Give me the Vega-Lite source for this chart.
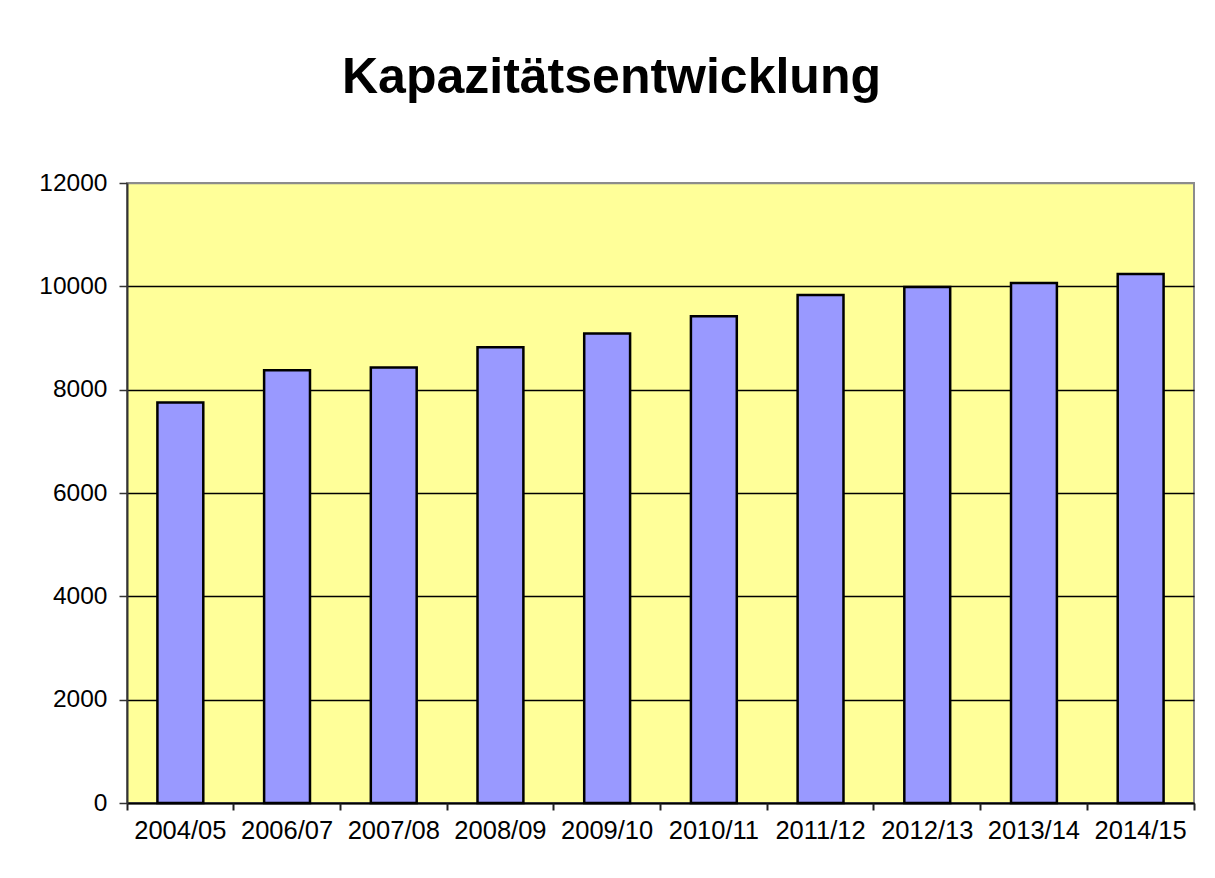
{
  "$schema": "https://vega.github.io/schema/vega-lite/v6.json",
  "autosize": {"type": "none"},
  "width": 1067,
  "height": 620,
  "padding": {"left": 127, "top": 183, "right": 21, "bottom": 75},
  "background": "white",
  "config": {
    "view": {"stroke": "#8c8c8c", "strokeWidth": 2, "fill": "#FFFF99"}
  },
  "title": {
    "text": "Kapazitätsentwicklung",
    "font": "Liberation Sans",
    "fontSize": 50,
    "fontWeight": "bold",
    "color": "black",
    "anchor": "middle",
    "dx": -49,
    "offset": 67
  },
  "data": {
    "values": [
      {"jahr": "2004/05", "kapazitaet": 7750},
      {"jahr": "2006/07", "kapazitaet": 8375},
      {"jahr": "2007/08", "kapazitaet": 8430},
      {"jahr": "2008/09", "kapazitaet": 8820},
      {"jahr": "2009/10", "kapazitaet": 9085},
      {"jahr": "2010/11", "kapazitaet": 9420},
      {"jahr": "2011/12", "kapazitaet": 9830},
      {"jahr": "2012/13", "kapazitaet": 9985},
      {"jahr": "2013/14", "kapazitaet": 10065},
      {"jahr": "2014/15", "kapazitaet": 10240}
    ]
  },
  "layer": [
    {
      "mark": {"type": "bar", "width": {"band": 0.43}, "fill": "#9999FF", "stroke": "black", "strokeWidth": 2.5},
      "encoding": {
        "x": {
          "field": "jahr", "type": "nominal", "sort": null,
          "scale": {"paddingInner": 0, "paddingOuter": 0},
          "axis": {
            "orient": "bottom", "title": null, "ticks": false, "tickSize": 0,
            "labelAngle": 0, "labelFont": "Liberation Sans", "labelFontSize": 25.5,
            "labelColor": "black", "labelPadding": 15,
            "domainColor": "black", "domainWidth": 2, "grid": false
          }
        },
        "y": {
          "field": "kapazitaet", "type": "quantitative",
          "scale": {"domain": [0, 12000], "nice": false},
          "axis": {
            "title": null,
            "format": "d",
            "values": [0, 2000, 4000, 6000, 8000, 10000, 12000],
            "grid": true,
            "gridColor": {"condition": {"test": "datum.value == 12000", "value": "#8c8c8c"}, "value": "black"},
            "gridWidth": 1.3,
            "domainColor": "#333333", "domainWidth": 2,
            "tickColor": "#333333", "tickSize": 8, "tickWidth": 1.5,
            "labelFont": "Liberation Sans", "labelFontSize": 24.5,
            "labelColor": "black", "labelPadding": 12
          }
        }
      }
    },
    {
      "mark": {"type": "bar", "opacity": 0},
      "encoding": {
        "x": {
          "field": "jahr", "type": "nominal", "sort": null,
          "axis": {
            "orient": "bottom", "title": null, "labels": false, "domain": false,
            "ticks": true, "tickSize": 7, "tickColor": "#222222", "tickWidth": 2,
            "bandPosition": 1, "tickExtra": true, "grid": false
          }
        },
        "y": {"field": "kapazitaet", "type": "quantitative"}
      }
    }
  ],
  "resolve": {"axis": {"x": "independent"}}
}
